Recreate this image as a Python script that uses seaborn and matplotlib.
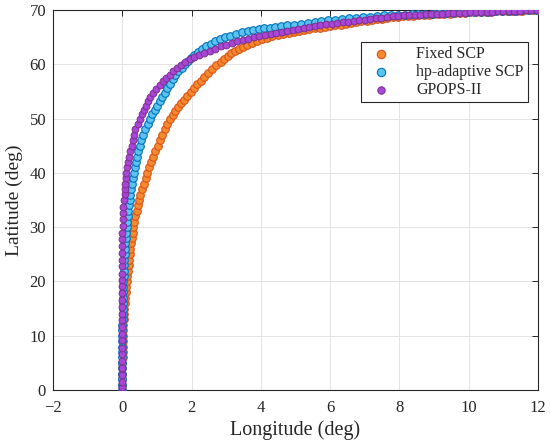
import matplotlib
matplotlib.use('Agg')
import matplotlib.pyplot as plt
import pandas as pd
import seaborn as sns

# Fixed SCP (orange)
fixed_lon = [0.00, 0.00, 0.00, 0.00, 0.00, 0.00, 0.01, 0.01, 0.01, 0.02, 0.02, 0.03, 0.03, 0.04, 0.05, 0.06,
             0.07, 0.08, 0.10, 0.11, 0.13, 0.14, 0.16, 0.18, 0.19, 0.21, 0.23, 0.25, 0.27, 0.30, 0.32,
             0.35, 0.38, 0.41, 0.44, 0.48, 0.52, 0.57, 0.62, 0.67, 0.72,
             0.77, 0.83, 0.89, 0.95, 1.02, 1.09, 1.16, 1.23, 1.30, 1.38,
             1.45, 1.53, 1.61, 1.70, 1.79, 1.88, 1.97, 2.07, 2.16, 2.27, 2.37, 2.48, 2.59, 2.71, 2.84,
             2.94, 3.04, 3.15, 3.26, 3.36, 3.48, 3.61, 3.75, 3.88, 4.02, 4.17, 4.33,
             4.50, 4.65, 4.80, 4.95, 5.10, 5.25, 5.40, 5.55, 5.70, 5.85, 6.00, 6.15, 6.30, 6.45, 6.60,
             6.75, 6.90, 7.05, 7.20, 7.35, 7.50, 7.65, 7.80, 7.95, 8.10, 8.25, 8.40, 8.55, 8.70, 8.85,
             9.00, 9.15, 9.30, 9.45, 9.60, 9.75, 9.90, 10.05, 10.20, 10.35, 10.50, 10.65, 10.80, 10.95,
             11.10, 11.25, 11.40, 11.55, 11.70, 11.85, 12.00]
fixed_lat = [0, 1, 2, 3, 4, 5, 6, 7, 8, 9, 10, 11, 12, 13, 14, 15,
             16, 17, 18, 19, 20, 21, 22, 23, 24, 25, 26, 27, 28, 29, 30,
             31, 32, 33, 34, 35, 36, 37, 38, 39, 40,
             41, 42, 43, 44, 45, 46, 47, 48, 49, 50,
             50.7, 51.4, 52.1, 52.8, 53.5, 54.2, 54.9, 55.6, 56.3, 57.0, 57.7, 58.4, 59.1, 59.8, 60.5,
             61.0, 61.5, 62.0, 62.4, 62.8, 63.2, 63.6, 64.0, 64.3, 64.6, 64.9, 65.2,
             65.4, 65.6, 65.8, 65.95, 66.15, 66.3, 66.45, 66.6, 66.75, 66.85, 67.0, 67.15, 67.3, 67.45, 67.6,
             67.75, 67.9, 68.0, 68.15, 68.3, 68.4, 68.55, 68.7, 68.8, 68.85, 68.9, 68.95, 69.0, 69.1, 69.15,
             69.2, 69.25, 69.3, 69.35, 69.4, 69.45, 69.5, 69.55, 69.58, 69.62, 69.65, 69.7, 69.73, 69.77,
             69.8, 69.84, 69.87, 69.9, 69.94, 69.97, 70.0]

# hp-adaptive SCP (blue)
hp_lon = [0.00, 0.00, 0.00, 0.00, 0.00, 0.00, 0.00, 0.00, 0.00, 0.00, 0.00, 0.00, 0.00,
          0.01, 0.01, 0.01, 0.02, 0.02, 0.02, 0.03, 0.03, 0.04, 0.04, 0.05, 0.06, 0.07, 0.08, 0.09, 0.10,
          0.11, 0.13, 0.14, 0.16, 0.17, 0.19, 0.21, 0.23, 0.25, 0.28, 0.30, 0.33,
          0.36, 0.39, 0.42, 0.46, 0.50, 0.55, 0.60, 0.66, 0.73, 0.80,
          0.86, 0.93, 1.00, 1.08, 1.15, 1.22, 1.29, 1.37, 1.45, 1.53, 1.62, 1.71, 1.80,
          1.89, 1.98, 2.08, 2.18, 2.29, 2.41, 2.55, 2.68, 2.82, 2.97,
          3.12, 3.28, 3.45, 3.62, 3.78, 3.95, 4.10, 4.25, 4.42, 4.58,
          4.75, 4.95, 5.15, 5.35, 5.55, 5.75, 5.95, 6.15, 6.35, 6.55, 6.75, 6.95, 7.15, 7.35, 7.55,
          7.75, 7.95, 8.15, 8.35, 8.55, 8.75, 8.95, 9.15, 9.35, 9.55, 9.75, 9.95, 10.15, 10.35, 10.55,
          10.75, 10.95, 11.15, 11.35, 11.55, 11.75, 11.95]
hp_lat = [0, 1, 2, 3, 4, 5, 6, 7, 8, 9, 10, 11, 12,
          13, 14, 15, 16, 17, 18, 19, 20, 21, 22, 23, 24, 25, 26, 27, 28,
          29, 30, 31, 32, 33, 34, 35, 36, 37, 38, 39, 40,
          41, 42, 43, 44, 45, 46, 47, 48, 49, 50,
          50.8, 51.6, 52.4, 53.2, 54.0, 54.8, 55.6, 56.4, 57.2, 58.0, 58.7, 59.4, 60.0,
          60.6, 61.2, 61.8, 62.3, 62.8, 63.3, 63.8, 64.2, 64.6, 65.0,
          65.3, 65.6, 65.9, 66.1, 66.3, 66.5, 66.6, 66.75, 66.9, 67.0,
          67.15, 67.3, 67.45, 67.6, 67.8, 67.95, 68.1, 68.25, 68.35, 68.5, 68.6, 68.7, 68.8, 68.9, 69.0,
          69.05, 69.1, 69.15, 69.2, 69.25, 69.3, 69.35, 69.4, 69.45, 69.5, 69.55, 69.6, 69.63, 69.67, 69.7,
          69.75, 69.8, 69.84, 69.88, 69.92, 69.96, 70.0]

# GPOPS-II (purple)
gpops_lon = [0.00, 0.00, -0.01, 0.00, -0.01, 0.00, -0.01, 0.00, 0.00, -0.01, -0.01, 0.00, 0.00, -0.01,
             -0.01, -0.01, -0.02, -0.01, -0.01, -0.01, 0.00, -0.01, -0.01, 0.00, 0.00, 0.01, 0.01, 0.02,
             0.03, 0.05, 0.07, 0.08, 0.09, 0.10, 0.12,
             0.14, 0.16, 0.19, 0.22, 0.28, 0.31, 0.34, 0.38, 0.44, 0.50,
             0.56, 0.62, 0.68, 0.74, 0.80, 0.89, 0.98, 1.08, 1.17, 1.27, 1.37, 1.47, 1.58, 1.70,
             1.82, 1.95, 2.08, 2.22, 2.37, 2.52, 2.68, 2.84, 3.00, 3.16, 3.32, 3.48, 3.64, 3.80,
             3.96, 4.12, 4.28, 4.44, 4.60,
             4.76, 4.92, 5.08, 5.24, 5.40, 5.56, 5.72, 5.88, 6.04, 6.20, 6.36, 6.52, 6.68, 6.84, 7.00,
             7.16, 7.32, 7.48, 7.64, 7.80, 7.96, 8.12, 8.28, 8.44, 8.60, 8.76, 8.92, 9.08, 9.24, 9.40,
             9.56, 9.72, 9.88, 10.04, 10.20, 10.36, 10.52, 10.68, 10.84, 11.00, 11.16, 11.32, 11.48,
             11.64, 11.80, 11.96]
gpops_lat = [0.0, 0.6, 1.5, 2.8, 4.0, 5.3, 6.6, 7.8, 9.2, 10.4, 11.6, 12.9, 14.0, 15.3,
             16.5, 17.8, 19.1, 20.2, 21.4, 22.8, 24.0, 25.2, 26.5, 27.8, 29.0, 30.3, 31.5, 32.6,
             33.8, 35.0, 36.1, 37.0, 38.0, 39.0, 40.0,
             41.0, 42.0, 43.0, 44.0, 45.0, 46.0, 47.0, 48.0, 49.0, 50.0,
             50.8, 51.6, 52.4, 53.2, 54.0, 54.8, 55.5, 56.2, 56.9, 57.5, 58.1, 58.7, 59.3, 59.9,
             60.4, 60.9, 61.3, 61.7, 62.1, 62.5, 62.9, 63.3, 63.6, 63.9, 64.2, 64.5, 64.75, 65.0,
             65.2, 65.4, 65.6, 65.8, 66.0,
             66.2, 66.4, 66.55, 66.7, 66.85, 67.0, 67.2, 67.35, 67.5, 67.6, 67.75, 67.85, 67.95, 68.1, 68.2,
             68.3, 68.45, 68.55, 68.7, 68.85, 68.95, 69.0, 69.05, 69.1, 69.15, 69.2, 69.25, 69.3, 69.35, 69.4,
             69.45, 69.48, 69.52, 69.55, 69.6, 69.63, 69.66, 69.7, 69.73, 69.77, 69.8, 69.84, 69.88,
             69.92, 69.96, 70.0]

fixed = pd.DataFrame({'lon': fixed_lon, 'lat': fixed_lat})
hp = pd.DataFrame({'lon': hp_lon, 'lat': hp_lat})
gpops = pd.DataFrame({'lon': gpops_lon, 'lat': gpops_lat})

sns.set_style('white')
plt.rcParams['font.family'] = ['Liberation Serif', 'DejaVu Serif']

fig = plt.figure(figsize=(5.5, 4.45), dpi=100)
ax = fig.add_axes([0.0964, 0.1236, 0.8818, 0.8539])

sns.scatterplot(x='lon', y='lat', data=fixed, ax=ax, s=30, color='#F5892E',
                edgecolor='#D95319', linewidth=0.8, label='Fixed SCP', zorder=3)
sns.scatterplot(x='lon', y='lat', data=hp, ax=ax, s=30, color='#5CC3EE',
                edgecolor='#0072BD', linewidth=0.8, label='hp-adaptive SCP', zorder=4)
sns.scatterplot(x='lon', y='lat', data=gpops, ax=ax, s=24, color='#A846D8',
                edgecolor='#7E2F8E', linewidth=0.7, label='GPOPS-II', zorder=5)

ax.set_xlim(-2, 12)
ax.set_ylim(0, 70)
ax.set_xticks([-2, 0, 2, 4, 6, 8, 10, 12])
ax.set_xticklabels(['\u22122', '0', '2', '4', '6', '8', '10', '12'])
ax.set_yticks([0, 10, 20, 30, 40, 50, 60, 70])
ax.grid(True, color='#e3e3e3', linewidth=0.7)
ax.set_axisbelow(True)
for sp in ax.spines.values():
    sp.set_color('#262626')
    sp.set_linewidth(0.8)
ax.tick_params(direction='in', length=4, width=0.7, color='#262626', labelsize=12,
               top=True, right=True, labelcolor='#262626')
ax.tick_params(axis='x', pad=7)
ax.tick_params(axis='y', pad=5)
ax.set_xlabel('Longitude (deg)', fontsize=14.5, color='#262626', labelpad=3)
ax.set_ylabel('Latitude (deg)', fontsize=14, color='#262626', labelpad=5)

leg = ax.legend(loc='upper right', bbox_to_anchor=(0.979, 0.915), borderaxespad=0,
                fontsize=11.5, frameon=True, fancybox=False, edgecolor='#262626', framealpha=1,
                borderpad=0.25, handletextpad=1.2, labelspacing=0.12, handlelength=2.0,
                markerscale=1.1)
leg.get_frame().set_linewidth(0.8)

fig.savefig('out.png', dpi=100)
